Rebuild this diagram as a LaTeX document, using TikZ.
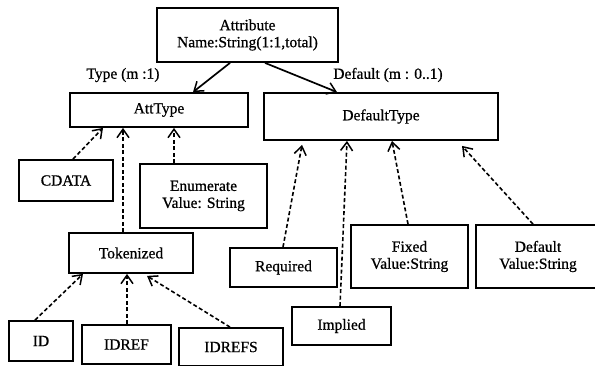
\documentclass[tikz,border=0pt]{standalone}
\usepackage{fontspec}
\setmainfont{Liberation Serif}[FakeBold=0.7]
\usetikzlibrary{arrows.meta}
\begin{document}
\begin{tikzpicture}[x=1pt,y=-1pt,
  box/.style={draw, line width=1.8pt, rectangle, inner sep=0pt, align=center,
    font=\fontsize{15.5}{17}\selectfont},
  lbl/.style={inner sep=0pt, font=\fontsize{15.5}{17}\selectfont},
  assoc/.style={line width=1.7pt, -{Straight Barb[length=8.5pt,width=12pt,line width=1.5pt]}},
  isa/.style={line width=1.6pt, dash pattern=on 4pt off 2.5pt,
    -{Straight Barb[length=8.5pt,width=12pt,line width=1.5pt]}}]
\useasboundingbox (0,0) rectangle (595,366);
\clip (0,0) rectangle (595,366);
\fill[white] (0,0) rectangle (595,366);

% classes
\node[box, minimum width=181pt, minimum height=54pt] (attr) at (247.5,35) {Attribute\\Name:String(1:1,total)};
\node[box, minimum width=178pt, minimum height=34pt] (atttype) at (159,110) {AttType};
\node[box, minimum width=234pt, minimum height=47pt] (deftype) at (381,116.5) {DefaultType};

\node[box, minimum width=94pt, minimum height=41pt] (cdata) at (66,180.5) {CDATA};
\node[box, minimum width=127pt, minimum height=64pt] (enum) at (203.5,196) {Enumerate\\Value: String};
\node[box, minimum width=124pt, minimum height=40pt] (tok) at (131,253) {Tokenized};
\node[box, minimum width=64pt, minimum height=40pt] (id) at (41,341) {ID};
\node[box, minimum width=89pt, minimum height=39pt] (idref) at (126.5,344.5) {IDREF};
\node[box, minimum width=104pt, minimum height=38pt] (idrefs) at (231,347) {IDREFS};

\node[box, minimum width=107pt, minimum height=39pt] (req) at (283.5,267.5) {Required};
\node[box, minimum width=99pt, minimum height=38pt] (impl) at (341.5,326) {Implied};
\node[box, minimum width=117pt, minimum height=63pt] (fixed) at (409.5,256.5) {Fixed\\Value:String};
\node[box, minimum width=124pt, minimum height=63pt] (dflt) at (538,256.5) {Default\\Value:String};

% association labels
\node[lbl] (ltype) at (123,75) {Type (m :1)};
\node[lbl] (ldef) at (388,75) {Default (m : 0..1)};

% associations
\draw[assoc] ([xshift=-17.5pt]attr.south) -- ([xshift=34pt]atttype.north);
\draw[assoc] ([xshift=17.5pt]attr.south) -- ([xshift=-44pt]deftype.north);

% specialisations of AttType
\draw[isa] ([xshift=7pt]cdata.north) -- ([xshift=-56pt]atttype.south);
\draw[isa] ([xshift=-8pt]tok.north) -- ([xshift=-36pt]atttype.south);
\draw[isa] ([xshift=-29.5pt]enum.north) -- ([xshift=15pt]atttype.south);

% specialisations of Tokenized
\draw[isa] ([xshift=-6pt]id.north) -- ([xshift=-48pt]tok.south);
\draw[isa] ([xshift=0.5pt]idref.north) -- ([xshift=-4pt]tok.south);
\draw[isa] ([xshift=-1pt]idrefs.north) -- ([xshift=16pt,yshift=-2pt]tok.south);

% specialisations of DefaultType
\draw[isa] ([xshift=-0.5pt]req.north) -- ([xshift=-79pt,yshift=-4pt]deftype.south);
\draw[isa] ([xshift=-1.5pt]impl.north) -- ([xshift=-34pt]deftype.south);
\draw[isa] ([xshift=-1.5pt]fixed.north) -- ([xshift=11pt]deftype.south);
\draw[isa] ([xshift=-5pt]dflt.north) -- ([xshift=81pt,yshift=-5pt]deftype.south);
\end{tikzpicture}
\end{document}
